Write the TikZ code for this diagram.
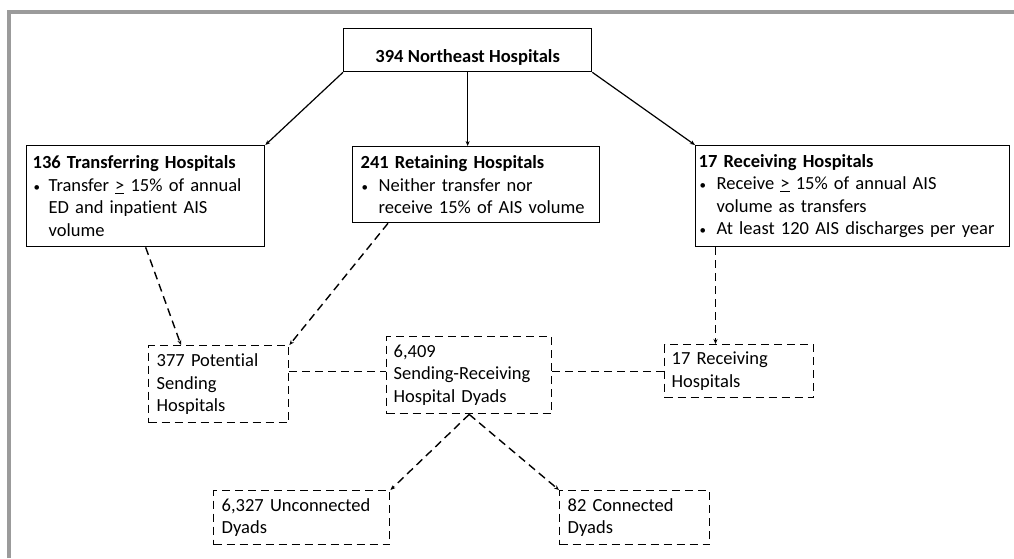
\documentclass[tikz,border=0pt]{standalone}
\usepackage{fontspec}
\setmainfont{Carlito}[Ligatures=NoCommon]
\usetikzlibrary{arrows.meta,calc}
\newcommand{\bul}[2]{\mbox{\makebox[#1][l]{\hspace*{1pt}{\fontsize{13}{13}\selectfont •}}#2}}
\newcommand{\ind}[2]{\mbox{\hspace*{#1}#2}}
\begin{document}
\begin{tikzpicture}[x=1pt,y=-1pt,
  every node/.style={font=\fontsize{18.5}{22.5}\selectfont, inner ysep=0pt},
  solidbox/.style={draw, line width=1.3pt, anchor=north west, align=left},
  dashbox/.style={draw, line width=1.4pt, dash pattern=on 8pt off 5pt, anchor=north west, align=left},
  solidarrow/.style={draw, line width=1.2pt, -{Stealth[length=5pt,width=4pt]}},
  dasharrow/.style={draw, line width=1.4pt, dash pattern=on 8pt off 5pt, -{Stealth[length=5pt,width=4pt]}},
  dashline/.style={draw, line width=1.4pt, dash pattern=on 8pt off 5pt}
]
\useasboundingbox (0,0) rectangle (1014,558);
\fill[white] (0,0) rectangle (1014,558);
% gray frame
\draw[line width=4pt, color={rgb,255:red,155;green,155;blue,155}] (9,558) -- (9,12) -- (1014,12);

% top
\node[solidbox, align=center, minimum width=248, minimum height=43, inner xsep=0pt] (top) at (343,28)
  {\raisebox{-8pt}[12pt][4pt]{\textbf{394 Northeast Hospitals}}};

% second row
\node[solidbox, minimum width=238, minimum height=101, inner xsep=6pt, text width=226] (trans) at (26,145)
  {\textbf{136 Transferring Hospitals}\\
   \bul{16pt}{Transfer \underline{>} 15\% of annual}\\
   \ind{16pt}{ED and inpatient AIS}\\
   \ind{16pt}{volume}};
\node[solidbox, minimum width=247, minimum height=76, inner xsep=8pt, text width=231] (ret) at (352,146)
  {\textbf{241 Retaining Hospitals}\\
   \bul{18pt}{Neither transfer nor}\\
   \ind{18pt}{receive 15\% of AIS volume}};
\node[solidbox, minimum width=314, minimum height=101, inner xsep=3pt, text width=308] (recv) at (695,145)
  {\textbf{17 Receiving Hospitals}\\
   \bul{18pt}{Receive \underline{>} 15\% of annual AIS}\\
   \ind{18pt}{volume as transfers}\\
   \bul{18pt}{At least 120 AIS discharges per year}};

% third row
\node[dashbox, minimum width=140, minimum height=77, inner xsep=8pt, text width=124] (pot) at (148,345)
  {377 Potential\\Sending\\Hospitals};
\node[dashbox, minimum width=165, minimum height=77, inner xsep=7pt, text width=151] (dyads) at (386,336)
  {6,409\\Sending-Receiving\\Hospital Dyads};
\node[dashbox, minimum width=149, minimum height=53, inner xsep=7pt, text width=135] (rs) at (664,344)
  {17 Receiving\\Hospitals};

% bottom row
\node[dashbox, minimum width=176, minimum height=54, inner xsep=8pt, text width=160] (unc) at (213,490)
  {6,327 Unconnected\\Dyads};
\node[dashbox, minimum width=150, minimum height=54, inner xsep=8pt, text width=134] (con) at (559,490)
  {82 Connected\\Dyads};

% helper coordinates
\coordinate (potin) at ($(pot.north west)+(33,0)$);
\coordinate (retout) at ($(ret.south west)+(36,0)$);
\coordinate (recvout) at ($(recv.south west)+(20.5,0)$);

% solid arrows
\path[solidarrow] (top.south west) -- (trans.north east);
\path[solidarrow] (top.south) -- (top.south |- ret.north);
\path[solidarrow] (top.south east) -- (recv.north west);

% dashed arrows
\path[dasharrow] (trans.south) -- (potin);
\path[dasharrow] (retout) -- (pot.north east);
\path[dasharrow] (recvout) -- (recvout |- rs.north);
\path[dasharrow] (dyads.south) -- (unc.north east);
\path[dasharrow] (dyads.south) -- (con.north west);

% dashed lines
\path[dashline] (pot.east |- rs.west) -- (dyads.west |- rs.west);
\path[dashline] (dyads.east |- rs.west) -- (rs.west);
\end{tikzpicture}
\end{document}
